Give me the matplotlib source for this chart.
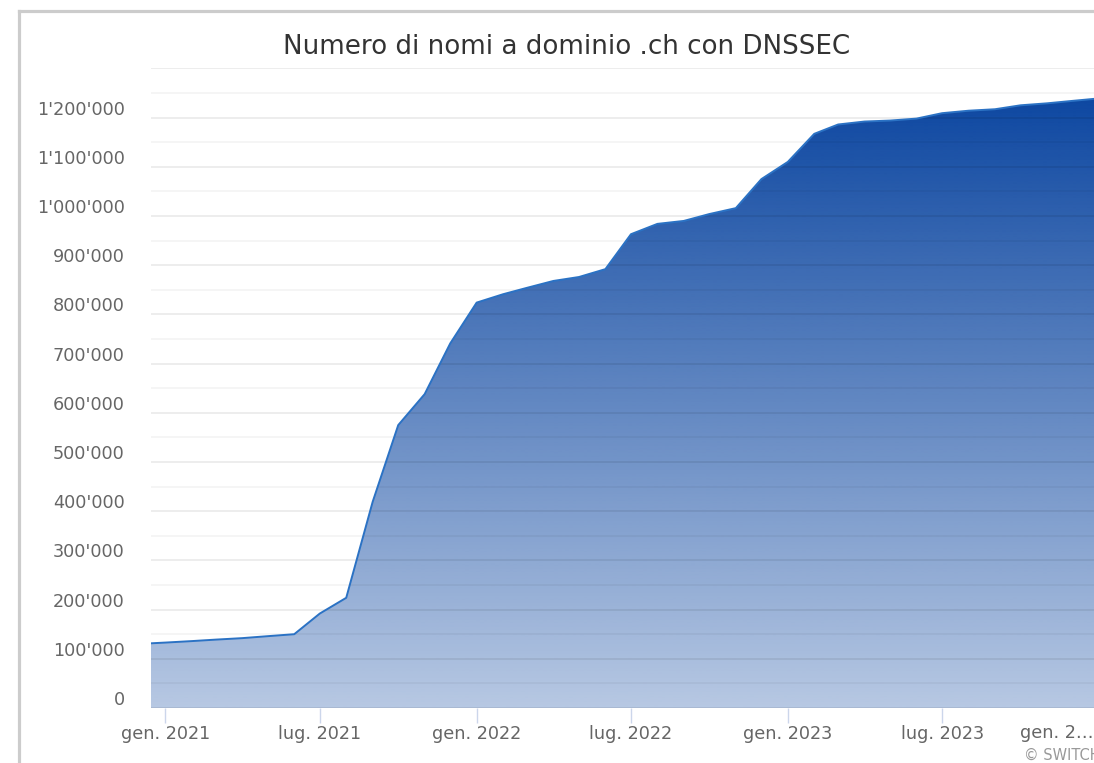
import numpy as np
import pandas as pd
import matplotlib
matplotlib.use("Agg")
import matplotlib.pyplot as plt
import matplotlib.dates as mdates
import matplotlib.transforms as mtrans
from matplotlib.colors import to_rgb
from matplotlib.lines import Line2D

# dati: numero di domini .ch firmati con DNSSEC
dates = ['2020-12-15', '2021-01-01', '2021-02-01', '2021-03-01', '2021-04-01', '2021-05-01',
         '2021-06-01', '2021-07-01', '2021-08-01', '2021-09-01', '2021-10-01', '2021-11-01',
         '2021-12-01', '2022-01-01', '2022-02-01', '2022-03-01', '2022-04-01', '2022-05-01',
         '2022-06-01', '2022-07-01', '2022-08-01', '2022-09-01', '2022-10-01', '2022-11-01',
         '2022-12-01', '2023-01-01', '2023-02-01', '2023-03-01', '2023-04-01', '2023-05-01',
         '2023-06-01', '2023-07-01', '2023-08-01', '2023-09-01', '2023-10-01', '2023-11-01',
         '2023-12-01', '2024-01-01']
domains = [131500, 133000, 136000, 139000, 142000, 146000,
           150000, 192000, 224000, 419000, 575000, 638000,
           741000, 824000, 841000, 854000, 868000, 876000,
           892000, 963000, 984000, 990000, 1004000, 1016000,
           1075000, 1110000, 1167000, 1186000, 1192000, 1194000,
           1198000, 1209000, 1214000, 1217000, 1225000, 1229000,
           1234000, 1239000]

tick_dates = ['2021-01-01', '2021-07-01', '2022-01-01', '2022-07-01', '2023-01-01', '2023-07-01']
tick_labels = ['gen. 2021', 'lug. 2021', 'gen. 2022', 'lug. 2022', 'gen. 2023', 'lug. 2023']
y_major = list(range(0, 1300001, 100000))
y_minor = list(range(50000, 1300000, 100000))

W, H = 1094, 763
fig = plt.figure(figsize=(W / 100, H / 100), dpi=100)
# area di disegno (in pixel): x 151..1099, y 68..708
ax = fig.add_axes([151 / W, (H - 708) / H, (1099 - 151) / W, (708 - 68.4) / H])

x = mdates.date2num(pd.to_datetime(dates))
y = np.array(domains)
ax.set_xlim(x[0], mdates.date2num(pd.Timestamp('2024-01-01')))
ax.set_ylim(0, 1300000)

# riempimento con gradiente verticale (opacità 1 -> 0.3)
base = to_rgb('#0d47a1')
n = 256
grad = np.zeros((n, 1, 4))
grad[:, 0, 0], grad[:, 0, 1], grad[:, 0, 2] = base
grad[:, 0, 3] = np.linspace(0.3, 1.0, n)
poly = ax.fill_between(x, 0, y, facecolor='none', edgecolor='none')
img = ax.imshow(grad, aspect='auto', origin='lower',
                extent=[x[0], x[-1], 0, y.max()], zorder=1, interpolation='bilinear')
img.set_clip_path(poly.get_paths()[0], transform=ax.transData)
ax.plot(x, y, color='#2b72c4', lw=1.4, zorder=3)

# griglia sopra l'area
for v in y_major:
    ax.axhline(v, color='black', alpha=0.09, lw=1.1, zorder=2)
for v in y_minor:
    ax.axhline(v, color='black', alpha=0.05, lw=1.1, zorder=2)

for s in ax.spines.values():
    s.set_visible(False)

ax.set_yticks(y_major[:-1])
ax.set_yticklabels(["{:,}".format(v).replace(',', "'") for v in y_major[:-1]])
ax.tick_params(axis='y', length=0, pad=19, labelsize=12.7, labelcolor='#666666')
off = mtrans.ScaledTranslation(0, 10 / 100, fig.dpi_scale_trans)
for lbl in ax.get_yticklabels():
    lbl.set_transform(lbl.get_transform() + off)

ax.set_xticks(mdates.date2num(pd.to_datetime(tick_dates)))
ax.set_xticklabels(tick_labels)
ax.tick_params(axis='x', length=10.5, width=1, color='#ccd6eb', pad=1.5,
               labelsize=12.7, labelcolor='#666666')

# ultima etichetta troncata a destra
fig.text(1094 / W, 1 - 733 / H, 'gen. 2…', ha='right', va='center', fontsize=12.7, color='#666666')

fig.text(567 / W, 1 - 47 / H, 'Numero di nomi a dominio .ch con DNSSEC',
         ha='center', va='center', fontsize=18.8, color='#333333')
fig.text(1024 / W, 1 - 755 / H, '© SWITCH', ha='left', va='center', fontsize=10.5, color='#999999')

# bordo grigio del contenitore
fig.add_artist(Line2D([19.5 / W, 19.5 / W], [0, 1 - 10.5 / H], color='#cccccc', lw=2.3,
                      transform=fig.transFigure))
fig.add_artist(Line2D([19.5 / W, 1], [1 - 10.5 / H, 1 - 10.5 / H], color='#cccccc', lw=2.3,
                      transform=fig.transFigure))

fig.savefig('out.png', dpi=100)
